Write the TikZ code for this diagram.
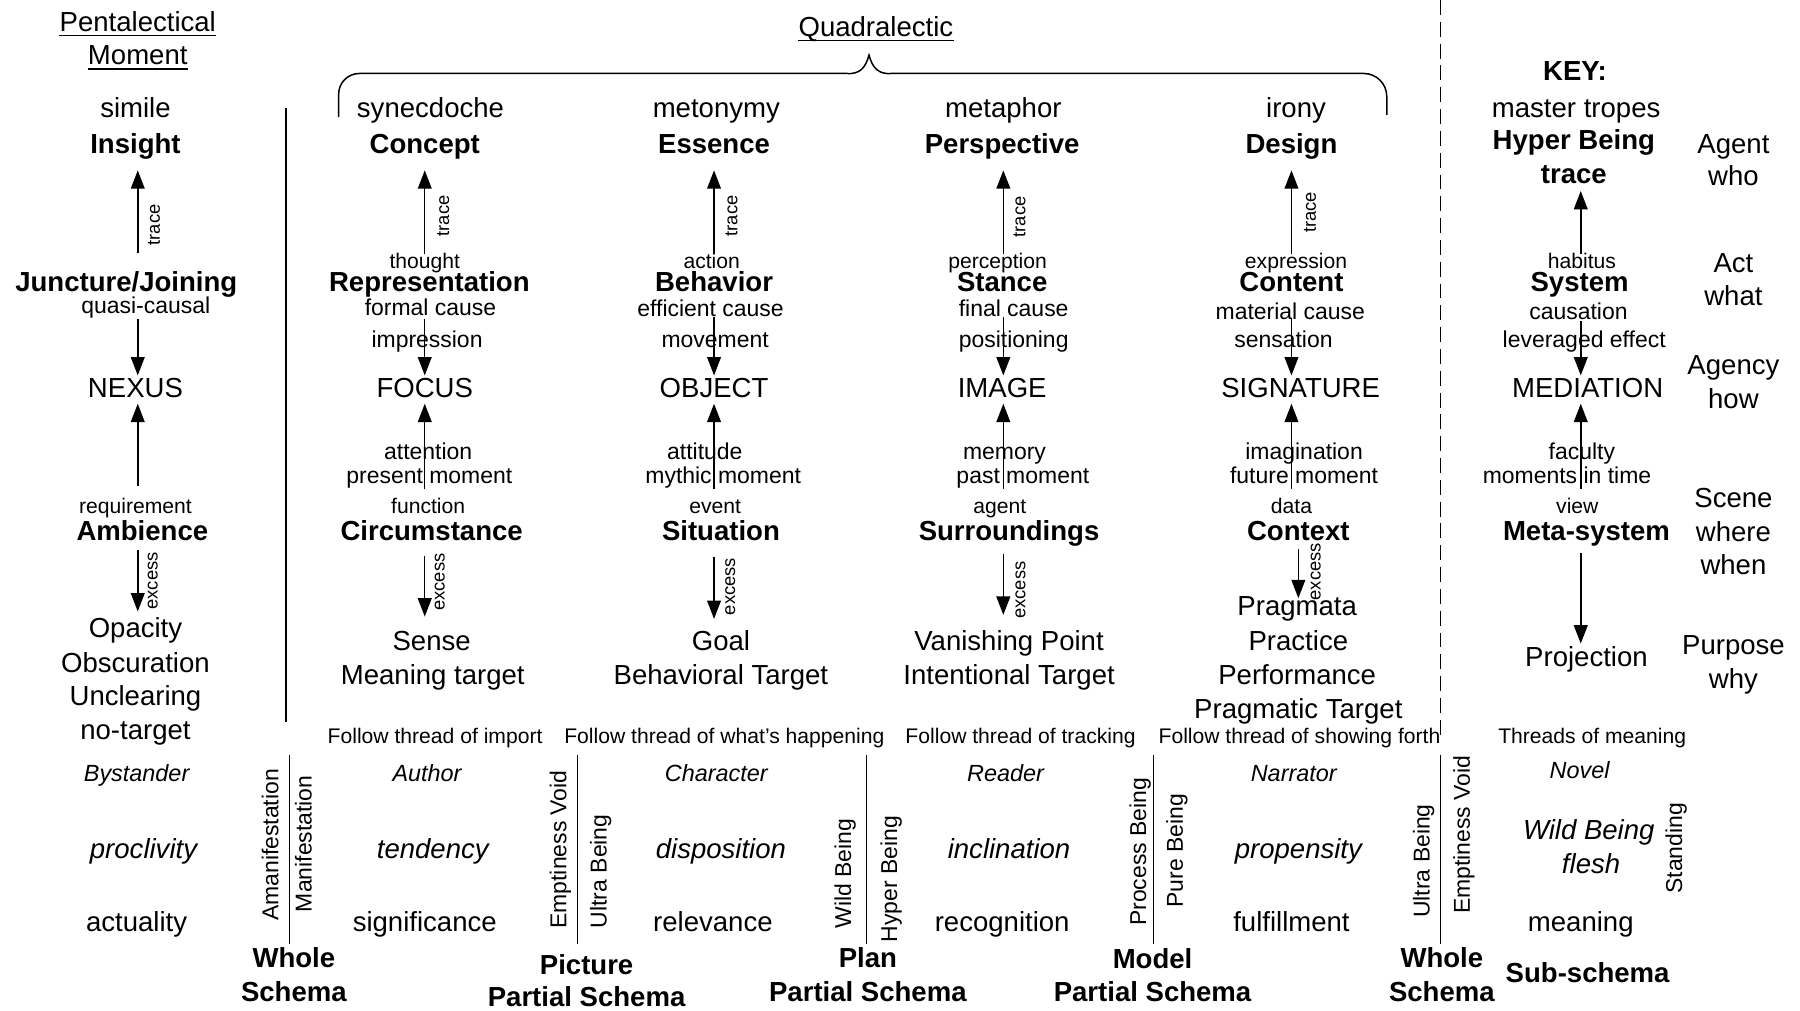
\documentclass[tikz,border=0pt]{standalone}
\usepackage{fontspec}
\setmainfont{Liberation Sans}
\usetikzlibrary{arrows.meta}
\begin{document}
\begin{tikzpicture}[x=0.5pt,y=-0.5pt,
  mainf/.style={inner sep=0pt, text height=8.9pt, text depth=2.4pt, font=\fontsize{12}{14}\selectfont},
  boldf/.style={inner sep=0pt, text height=8.9pt, text depth=2.4pt, font=\fontsize{12}{14}\selectfont\bfseries},
  smallf/.style={inner sep=0pt, text height=7.4pt, text depth=2pt, font=\fontsize{10}{12}\selectfont},
  tinyf/.style={inner sep=0pt, text height=6.8pt, text depth=1.85pt, font=\fontsize{9.2}{11}\selectfont},
  rotf/.style={inner sep=0pt, text height=5.9pt, text depth=1.6pt, font=\fontsize{8}{10}\selectfont, rotate=90},
  sidef/.style={inner sep=0pt, text height=7.4pt, text depth=2pt, font=\fontsize{10}{12}\selectfont, rotate=90},
  itsmall/.style={inner sep=0pt, text height=7.5pt, text depth=2pt, font=\fontsize{10.2}{12}\selectfont\itshape},
  itbig/.style={inner sep=0pt, text height=8.9pt, text depth=2.4pt, font=\fontsize{12}{14}\selectfont\itshape},
  ln/.style={line width=0.65pt},
  arr/.style={line width=0.65pt, -{Triangle[length=8pt,width=6pt]}},
]
\useasboundingbox (0,-2) rectangle (1568,878);

% column axes
\coordinate (col0) at (120,0);
\coordinate (col1) at (370,0);
\coordinate (col2) at (622,0);
\coordinate (col3) at (874,0);
\coordinate (col4) at (1125,0);
\coordinate (col4e) at (1131,0);
\coordinate (colk) at (1377,0);

% ---------- headings ----------
\node[mainf] (pent) at (120,19) {Pentalectical};
\node[mainf] (mom) at (120,48) {Moment};
\node[mainf] (quad) at (763,23) {Quadralectic};
\foreach \n in {pent,mom,quad}
  \draw[ln] ([yshift=-1.8pt]\n.base west) -- ([yshift=-1.8pt]\n.base east);

% brace over the four tropes
\draw[ln, rounded corners=9pt] (295,100) -- (295,62) -- (737,62);
\draw[ln] (737,62) .. controls (749,63) and (754,57) .. (757,46)
          .. controls (760,57) and (765,63) .. (777,62);
\draw[ln, rounded corners=10pt] (777,62) -- (1208,62) -- (1208,98);

% dividers
\draw[ln] (249,92) -- (249,627);
\draw[ln, dash pattern=on 6.5pt off 3pt] (1255,-2) -- (1255,641);

% ---------- Pentalectical column ----------
\node[mainf] (simile) at (118,94) {simile};
\node[boldf] (insight) at (118,125) {Insight};
\node[boldf] (junct) at (110,245) {Juncture/Joining};
\node[smallf] (quasi) at (127,266) {quasi-causal};
\node[mainf] (nexus) at (118,338) {NEXUS};
\node[tinyf] (req) at (118,440) {requirement};
\node[boldf] (amb) at (124,462) {Ambience};
\node[mainf] (opac) at (118,547) {Opacity};
\node[mainf] (obsc) at (118,577) {Obscuration};
\node[mainf] (uncl) at (118,606) {Unclearing};
\node[mainf] (notg) at (118,636) {no-target};
\node[rotf] (tr0) at (135,194) {trace};
\node[rotf] (ex0) at (133,504) {excess};
\draw[arr, shorten <=7.35pt, shorten >=4.85pt] (col0 |- junct.north) -- (col0 |- insight.south);
\draw[arr, shorten >=0.65pt] (col0 |- quasi.south) -- (col0 |- nexus.north);
\draw[arr, shorten <=4.7pt] (col0 |- req.north) -- (col0 |- nexus.south);
\draw[arr, shorten <=1.85pt, shorten >=2.35pt] (col0 |- amb.south) -- (col0 |- opac.north);

% ---------- synecdoche ----------
\node[mainf] (syn) at (375,94) {synecdoche};
\node[boldf] (concept) at (370,125) {Concept};
\node[tinyf] (thought) at (370,226.5) {thought};
\node[boldf] (repr) at (374,245.5) {Representation};
\node[smallf] (formal) at (375,267) {formal cause};
\node[smallf] (impr) at (372,295) {impression};
\node[mainf] (focus) at (370,338) {FOCUS};
\node[smallf] (atten) at (373,393) {attention};
\node[smallf] (pres) at (374,414) {present moment};
\node[tinyf] (func) at (373,440) {function};
\node[boldf] (circ) at (376,462) {Circumstance};
\node[mainf] (sense) at (376,558) {Sense};
\node[mainf] (meant) at (377,588) {Meaning target};
\node[rotf] (tr1) at (387,186) {trace};
\node[rotf] (ex1) at (383,505) {excess};
\draw[arr, shorten <=-0.7pt, shorten >=4.85pt] (col1 |- thought.north) -- (col1 |- concept.south);
\draw[arr, shorten <=-0.5pt, shorten >=0.65pt] (col1 |- formal.south) -- (col1 |- focus.north);
\draw[arr] (col1 |- pres.south) -- (col1 |- focus.south);
\draw[arr, shorten <=4.35pt, shorten >=5.6pt] (col1 |- circ.south) -- (col1 |- sense.north);

% ---------- metonymy ----------
\node[mainf] (meto) at (624,94) {metonymy};
\node[boldf] (essence) at (622,125) {Essence};
\node[tinyf] (action) at (620,226.5) {action};
\node[boldf] (behav) at (622,245.5) {Behavior};
\node[smallf] (effic) at (619,268.5) {efficient cause};
\node[smallf] (movem) at (623,295) {movement};
\node[mainf] (object) at (622,338) {OBJECT};
\node[smallf] (attit) at (614,393) {attitude};
\node[smallf] (mythic) at (630,414) {mythic moment};
\node[tinyf] (event) at (623,440) {event};
\node[boldf] (situ) at (628,462) {Situation};
\node[mainf] (goal) at (628,558) {Goal};
\node[mainf] (behtg) at (628,588) {Behavioral Target};
\node[rotf] (tr2) at (638,186) {trace};
\node[rotf] (ex2) at (636,509) {excess};
\draw[arr, shorten <=-0.7pt, shorten >=4.85pt] (col2 |- action.north) -- (col2 |- essence.south);
\draw[arr, shorten <=-1.9pt, shorten >=0.65pt] (col2 |- effic.south) -- (col2 |- object.north);
\draw[arr] (col2 |- mythic.south) -- (col2 |- object.south);
\draw[arr, shorten <=4.85pt, shorten >=4.6pt] (col2 |- situ.south) -- (col2 |- goal.north);

% ---------- metaphor ----------
\node[mainf] (metaph) at (874,94) {metaphor};
\node[boldf] (persp) at (873,125) {Perspective};
\node[tinyf] (percep) at (869,226.5) {perception};
\node[boldf] (stance) at (873,245.5) {Stance};
\node[smallf] (final) at (883,268.5) {final cause};
\node[smallf] (posit) at (883,295) {positioning};
\node[mainf] (image) at (873,338) {IMAGE};
\node[smallf] (memory) at (875,393) {memory};
\node[smallf] (past) at (891,414) {past moment};
\node[tinyf] (agentw) at (871,440) {agent};
\node[boldf] (surr) at (879,462) {Surroundings};
\node[mainf] (vanish) at (879,558) {Vanishing Point};
\node[mainf] (intent) at (879,588) {Intentional Target};
\node[rotf] (tr3) at (889,187) {trace};
\node[rotf] (ex3) at (889,512) {excess};
\draw[arr, shorten <=-0.7pt, shorten >=4.85pt] (col3 |- percep.north) -- (col3 |- persp.south);
\draw[arr, shorten <=-1.9pt, shorten >=0.65pt] (col3 |- final.south) -- (col3 |- image.north);
\draw[arr] (col3 |- past.south) -- (col3 |- image.south);
\draw[arr, shorten <=3.35pt, shorten >=6.35pt] (col3 |- surr.south) -- (col3 |- vanish.north);

% ---------- irony ----------
\node[mainf] (irony) at (1129,94) {irony};
\node[boldf] (design) at (1125,125) {Design};
\node[tinyf] (expr) at (1129,226.5) {expression};
\node[boldf] (content) at (1125,245.5) {Content};
\node[smallf] (mater) at (1124,271) {material cause};
\node[smallf] (sensa) at (1118,295) {sensation};
\node[mainf] (signat) at (1133,338) {SIGNATURE};
\node[smallf] (imag) at (1136,393) {imagination};
\node[smallf] (future) at (1136,414) {future moment};
\node[tinyf] (data) at (1125,440) {data};
\node[boldf] (context) at (1131,462) {Context};
\node[mainf] (pragm) at (1130,528) {Pragmata};
\node[mainf] (pract) at (1131,558) {Practice};
\node[mainf] (perf) at (1130,588) {Performance};
\node[mainf] (pragt) at (1131,617) {Pragmatic Target};
\node[rotf] (tr4) at (1142,183) {trace};
\node[rotf] (ex4) at (1146,496) {excess};
\draw[arr, shorten <=-0.7pt, shorten >=4.85pt] (col4 |- expr.north) -- (col4 |- design.south);
\draw[arr, shorten <=-2.45pt, shorten >=0.65pt] (col4 |- mater.south) -- (col4 |- signat.north);
\draw[arr] (col4 |- future.south) -- (col4 |- signat.south);
\draw[arr, shorten <=1.35pt, shorten >=-1.4pt] (col4e |- context.south) -- (col4e |- pragm.north);

% ---------- key column ----------
\node[boldf] (key) at (1372,62) {KEY:};
\node[mainf] (mtrop) at (1373,94) {master tropes};
\node[boldf] (hyper) at (1371,122) {Hyper Being};
\node[boldf] (ktrace) at (1371,151) {trace};
\node[tinyf] (habit) at (1378,226.5) {habitus};
\node[boldf] (system) at (1376,245.5) {System};
\node[smallf] (caus) at (1375,271) {causation};
\node[smallf] (lever) at (1380,295) {leveraged effect};
\node[mainf] (media) at (1383,338) {MEDIATION};
\node[smallf] (facul) at (1378,393) {faculty};
\node[smallf] (momt) at (1365,414) {moments in time};
\node[tinyf] (view) at (1374,440) {view};
\node[boldf] (meta) at (1382,462) {Meta-system};
\node[mainf] (proj) at (1382,572) {Projection};
\draw[arr, shorten <=-0.7pt, shorten >=0.85pt] (colk |- habit.north) -- (colk |- ktrace.south);
\draw[arr, shorten <=-1.7pt, shorten >=0.65pt] (colk |- caus.south) -- (colk |- media.north);
\draw[arr] (colk |- momt.south) -- (colk |- media.south);
\draw[arr, shorten <=2.85pt, shorten >=0.85pt] (colk |- meta.south) -- (colk |- proj.north);

% right-hand questions
\node[mainf] (agent) at (1510,125) {Agent};
\node[mainf] (who) at (1510,153) {who};
\node[mainf] (act) at (1510,229) {Act};
\node[mainf] (what) at (1510,258) {what};
\node[mainf] (agency) at (1510,318) {Agency};
\node[mainf] (how) at (1510,347) {how};
\node[mainf] (scene) at (1510,434) {Scene};
\node[mainf] (where) at (1510,463) {where};
\node[mainf] (when) at (1510,492) {when};
\node[mainf] (purpose) at (1510,562) {Purpose};
\node[mainf] (why) at (1510,591) {why};

% ---------- threads ----------
\node[tinyf] (thr1) at (379,641) {Follow thread of import};
\node[tinyf] (thr2) at (631,641) {Follow thread of what's happening};
\node[tinyf] (thr3) at (889,641) {Follow thread of tracking};
\node[tinyf] (thr4) at (1132,641) {Follow thread of showing forth};
\node[tinyf] (thr5) at (1387,641) {Threads of meaning};

\node[itsmall] (bysta) at (119,673) {Bystander};
\node[itsmall] (author) at (372,673) {Author};
\node[itsmall] (charac) at (624,673) {Character};
\node[itsmall] (reader) at (876,673) {Reader};
\node[itsmall] (narr) at (1127,673) {Narrator};
\node[itsmall] (novel) at (1376,671) {Novel};

\node[itbig] (procl) at (125,739) {proclivity};
\node[itbig] (tend) at (377,739) {tendency};
\node[itbig] (dispo) at (628,739) {disposition};
\node[itbig] (incl) at (879,739) {inclination};
\node[itbig] (prope) at (1131,739) {propensity};
\node[itbig] (wild) at (1384,723) {Wild Being};
\node[itbig] (flesh) at (1386,752) {flesh};

\node[mainf] (actual) at (119,803) {actuality};
\node[mainf] (signif) at (370,803) {significance};
\node[mainf] (relev) at (621,803) {relevance};
\node[mainf] (recog) at (873,803) {recognition};
\node[mainf] (fulf) at (1125,803) {fulfillment};
\node[mainf] (meaning) at (1377,803) {meaning};

% schema separators with their two sides
\foreach \sx in {252,503,755,1005,1255}
  \draw[ln] (\sx,656) -- (\sx,820);
\node[sidef] (amani) at (237,734) {Amanifestation};
\node[sidef] (mani) at (266,733) {Manifestation};
\node[sidef] (empt1) at (488,738) {Emptiness Void};
\node[sidef] (ultra1) at (523,757) {Ultra Being};
\node[sidef] (wildb) at (736,759) {Wild Being};
\node[sidef] (hyperb) at (776,764) {Hyper Being};
\node[sidef] (procb) at (993,740) {Process Being};
\node[sidef] (pureb) at (1025,739) {Pure Being};
\node[sidef] (ultra2) at (1240,748) {Ultra Being};
\node[sidef] (empt2) at (1275,725) {Emptiness Void};
\node[sidef] (stand) at (1460,737) {Standing};

\node[boldf] (whole1) at (256,834) {Whole};
\node[boldf] (schema1) at (256,864) {Schema};
\node[boldf] (pict) at (511,840) {Picture};
\node[boldf] (pschem1) at (511,868) {Partial Schema};
\node[boldf] (plan) at (756,834) {Plan};
\node[boldf] (pschem2) at (756,864) {Partial Schema};
\node[boldf] (model) at (1004,835) {Model};
\node[boldf] (pschem3) at (1004,864) {Partial Schema};
\node[boldf] (whole2) at (1256,834) {Whole};
\node[boldf] (schema2) at (1256,864) {Schema};
\node[boldf] (subs) at (1383,847) {Sub-schema};
\end{tikzpicture}
\end{document}
